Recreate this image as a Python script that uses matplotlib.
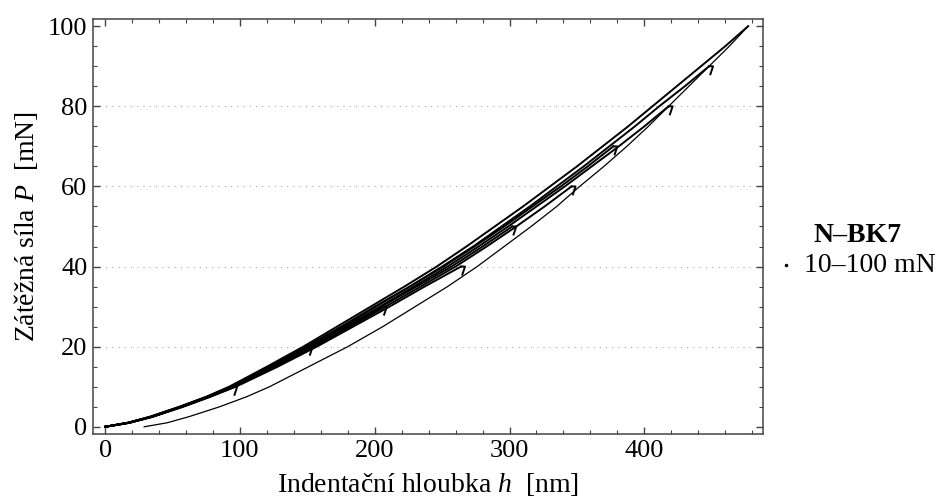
import numpy as np
import matplotlib
matplotlib.use("Agg")
import matplotlib.pyplot as plt
from matplotlib.lines import Line2D

plt.rcParams['font.family'] = ['Liberation Serif', 'DejaVu Serif']
plt.rcParams['mathtext.fontset'] = 'custom'
plt.rcParams['mathtext.rm'] = 'Liberation Serif'
plt.rcParams['mathtext.it'] = 'Liberation Serif:italic'
plt.rcParams['mathtext.bf'] = 'Liberation Serif:bold'

# loads [mN] at which depths were read
load_grid = [0, 1, 2.5, 5, 7.5, 10, 15, 20, 25, 30, 35, 40, 45, 50,
             55, 60, 65, 70, 75, 80, 85, 90, 95, 100]

# loading curves, depth [nm] for each indent (max load 10 ... 100 mN)
depth_10 = [0, 18, 35, 57, 77, 95]
depth_20 = [0, 17, 34, 56, 76, 93, 122, 151]
depth_30 = [0, 17, 35, 57, 77, 95, 125, 153, 180, 206]
depth_40 = [0, 18, 35, 58, 78, 97, 128, 157, 184, 211, 237, 264]
depth_50 = [0, 17, 34, 56, 76, 94, 123, 152, 179, 205, 231, 257, 280, 302]
depth_60 = [0, 18, 35, 57, 78, 96, 126, 155, 182, 208, 234, 260, 283, 305,
            326, 346]
depth_70 = [0, 17, 34, 56, 76, 93, 122, 149, 175, 200, 226, 251, 274, 296,
            317, 338, 358, 377]
depth_80 = [0, 18, 35, 57, 77, 95, 124, 152, 178, 204, 229, 254, 277, 299,
            320, 341, 361, 381, 400, 418]
depth_90 = [0, 17, 34, 56, 76, 94, 123, 150, 176, 201, 226, 250, 273, 294,
            315, 335, 355, 374, 393, 411, 430, 448]
depth_100 = [0, 17, 33, 55, 75, 92, 120, 147, 172, 197, 222, 246, 268, 289,
             310, 330, 350, 369, 388, 406, 424, 442, 460, 477]

# hold at max load and start of unloading (load drop from Pmax, depths)
tail_drop = [0, 0, 2]
tail_10 = [95, 98, 96]
tail_20 = [151, 154, 152]
tail_30 = [206, 209, 207]
tail_40 = [264, 267, 265]
tail_50 = [302, 305, 303]
tail_60 = [346, 349, 347]
tail_70 = [377, 380, 378]
tail_80 = [418, 421, 419]
tail_90 = [448, 451, 449]

# separate lower curve
lower_load = [0, 1, 2.5, 5, 7.5, 10, 15, 20, 25, 30, 35, 40, 45, 50,
              55, 60, 65, 70, 75, 80, 85, 90, 95, 100]
lower_depth = [29, 46, 62, 85, 105, 122, 151, 180, 206, 230, 254, 276, 296,
               316, 335, 352, 370, 387, 403, 418, 433, 448, 463, 477]

loading = [depth_10, depth_20, depth_30, depth_40, depth_50,
           depth_60, depth_70, depth_80, depth_90, depth_100]
tails = [tail_10, tail_20, tail_30, tail_40, tail_50,
         tail_60, tail_70, tail_80, tail_90]

fig = plt.figure(figsize=(9.38, 4.96), dpi=100)
ax = fig.add_axes([0.0991, 0.125, 0.7143, 0.8367])

for d in loading:
    ax.plot(d, load_grid[:len(d)], color='black', lw=1.4)
for k, t in enumerate(tails):
    pmax = 10 * (k + 1)
    ax.plot(t, [pmax - x for x in tail_drop], color='black', lw=1.4)
ax.plot(lower_depth, lower_load, color='black', lw=0.9)

ax.set_xlim(-9, 488)
ax.set_ylim(-1.8, 101.8)
ax.set_xticks(np.arange(0, 401, 100))
ax.set_xticks(np.arange(0, 481, 20), minor=True)
ax.set_yticks(np.arange(0, 101, 20))
ax.set_yticks(np.arange(0, 101, 5), minor=True)

for y in [20, 40, 60, 80]:
    ax.axhline(y, color='#a0a0a0', lw=0.75, dashes=(1, 5), zorder=0)

for s in ax.spines.values():
    s.set_color('#444444')
    s.set_linewidth(1.1)
ax.tick_params(which='both', direction='in', top=True, right=True,
               color='#444444', labelsize=19)
ax.tick_params(which='major', length=5, width=1.0, pad=4)
ax.tick_params(which='minor', length=3, width=0.8)

fig.text(428 / 938, 1 - 484 / 496, 'Indentační hloubka $h$  [nm]',
         ha='center', va='center', fontsize=20)
fig.text(26 / 938, 0.544, 'Zátěžná síla $P$  [mN]', rotation=90,
         ha='center', va='center', fontsize=20)

fig.text(857 / 938, 1 - 236 / 496, 'N–BK7', ha='center', va='center',
         fontsize=20, fontweight='bold')
fig.text(870 / 938, 1 - 266 / 496, '10–100 mN', ha='center', va='center',
         fontsize=20)
fig.add_artist(Line2D([786 / 938], [1 - 265 / 496], marker='o', ms=1.5,
                      color='black', transform=fig.transFigure))

fig.savefig('out.png', dpi=100)
